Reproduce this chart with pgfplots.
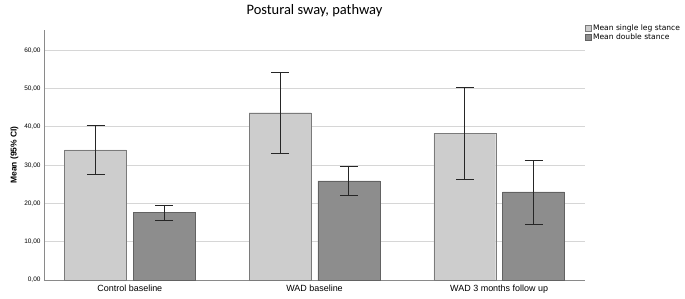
\documentclass[border=0pt]{standalone}
\usepackage{pgfplots}
\pgfplotsset{compat=1.18}
\usepackage{pgfplotstable}
\usepackage{fontspec}
\setmainfont{Liberation Sans}
\newfontfamily\titlefont{Carlito}
\newfontfamily\legfont{DejaVu Sans}
\definecolor{lightbar}{HTML}{CDCDCD}
\definecolor{darkbar}{HTML}{8D8D8D}
\definecolor{edgec}{HTML}{7A7A7A}
\definecolor{gridc}{HTML}{D6D6D6}
\definecolor{axisc}{HTML}{8A8A8A}
\pgfplotstableread{
x y ep em
0 34.0 6.3 6.4
1 43.7 10.5 10.6
2 38.3 12.0 12.1
}\single
\pgfplotstableread{
x y ep em
0 17.6 2.0 2.0
1 25.9 3.9 3.8
2 23.0 8.3 8.4
}\double
\begin{document}
\begin{tikzpicture}
\begin{axis}[
  scale only axis,
  width=541bp, height=250bp,
  xmin=-0.465, xmax=2.465,
  ymin=0, ymax=65.3,
  xtick={0,1,2},
  xticklabels={Control baseline, WAD baseline, WAD 3 months follow up},
  ytick={0,10,20,30,40,50,60},
  yticklabel style={font=\fontsize{6.5}{7}\selectfont, /pgf/number format/fixed, /pgf/number format/fixed zerofill, /pgf/number format/precision=2, /pgf/number format/use comma, /pgf/number format/assume math mode=true},
  xticklabel style={font=\fontsize{9}{10}\selectfont, yshift=-1pt},
  major tick length=0pt,
  ymajorgrids, grid style={gridc, line width=0.8pt},
  axis line style={axisc, line width=0.8pt},
  axis x line*=bottom, axis y line*=left,
  ylabel={\bfseries Mean (95\% CI)},
  ylabel style={font=\fontsize{8.5}{9}\selectfont, yshift=-1pt},
  title={\titlefont Postural sway, pathway},
  title style={font=\fontsize{14.5}{16}\selectfont, yshift=4pt},
  ybar, bar width=0.335,
  legend cell align=left,
  legend style={at={(rel axis cs:0.998,1.035)}, anchor=north west, draw=none, fill=none,
    font=\legfont\fontsize{7.6}{8}\selectfont, row sep=-2pt, inner sep=1pt,
    /tikz/every even column/.append style={column sep=0pt}},
  legend image code/.code={\draw[#1] (0cm,-2.8pt) rectangle (5.5pt,2.8pt);},
  clip=false,
  error bars/error bar style={black!85, line width=0.8pt},
  error bars/error mark options={rotate=90, mark size=9bp, line width=0.8pt, black!85},
]
\addplot[fill=lightbar, draw=edgec, bar shift=-0.186,
  error bars/.cd, y dir=both, y explicit]
  table[x=x, y=y, y error plus=ep, y error minus=em]{\single};
\addlegendentry{Mean single leg stance}
\addplot[fill=darkbar, draw=edgec!80!black, bar shift=0.186,
  error bars/.cd, y dir=both, y explicit]
  table[x=x, y=y, y error plus=ep, y error minus=em]{\double};
\addlegendentry{Mean double stance}
\coordinate (bl) at (rel axis cs:-0.0813,-0.072);
\coordinate (tr) at (rel axis cs:1.1848,1.12);
\end{axis}
\pgfresetboundingbox
\path[use as bounding box] (bl) rectangle (tr);
\end{tikzpicture}
\end{document}
